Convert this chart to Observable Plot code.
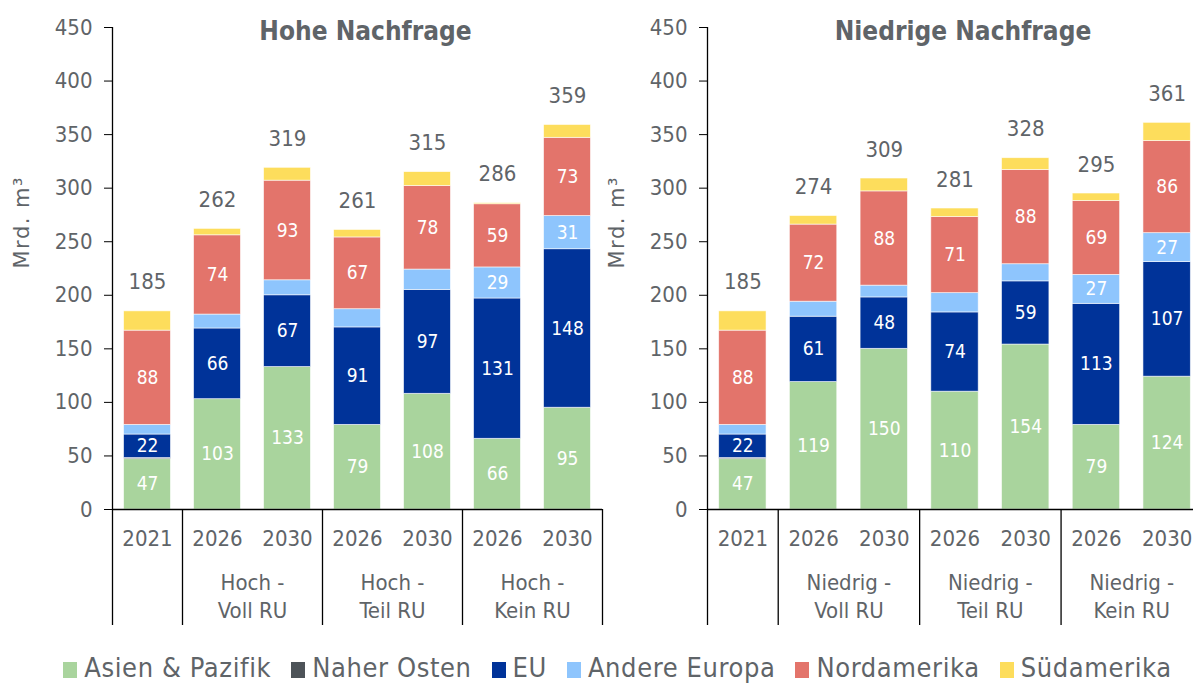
<!DOCTYPE html>
<html><head><meta charset="utf-8">
<script src="https://cdn.jsdelivr.net/npm/d3@7"></script>
<script src="https://cdn.jsdelivr.net/npm/@observablehq/plot@0.6"></script>
<style>
body{margin:0;background:#fff;font-family:"DejaVu Sans Condensed","DejaVu Sans",sans-serif;}
#wrap{position:relative;width:1193px;height:687px;overflow:hidden;background:#fff}
#left{position:absolute;left:0;top:0;width:605px}
#right{position:absolute;left:605px;top:0;width:600px}
#legend{position:absolute;top:652px;left:42px;width:1151px;display:flex;justify-content:center;align-items:center;font-size:27px;letter-spacing:0.6px;color:#5f6468;white-space:nowrap}
#legend .item{display:flex;align-items:center;margin:0 10px}
#legend .sw{width:14px;height:16px;margin-right:7px;display:inline-block;position:relative;top:2px}
svg{max-width:none !important}
</style>
</head><body>
<div id="wrap"><div id="left"></div><div id="right"></div><div id="legend"></div></div>
<script>
const years = ["2021","2026","2030","2026","2030","2026","2030"];
const groupsHigh = ["Hoch -\nVoll RU","Hoch -\nTeil RU","Hoch -\nKein RU"];
const groupsLow = ["Niedrig -\nVoll RU","Niedrig -\nTeil RU","Niedrig -\nKein RU"];
const regions = ["Asien & Pazifik","Naher Osten","EU","Andere Europa","Nordamerika","Südamerika"];
const colors = ["#a9d49d","#4d5358","#003399","#8ec5fd","#e3746b","#fddd5c"];

const highAsia = [47,103,133,79,108,66,95];
const highME   = [1,0,0,0,0,0,0];
const highEU   = [22,66,67,91,97,131,148];
const highOE   = [9,13,14,17,19,29,31];
const highNA   = [88,74,93,67,78,59,73];
const highSA   = [18,6,12,7,13,1,12];
const highTotal = [185,262,319,261,315,286,359];

const lowAsia = [47,119,150,110,154,79,124];
const lowME   = [1,0,0,0,0,0,0];
const lowEU   = [22,61,48,74,59,113,107];
const lowOE   = [9,14,11,18,16,27,27];
const lowNA   = [88,72,88,71,88,69,86];
const lowSA   = [18,8,12,8,11,7,17];
const lowTotal = [185,274,309,281,328,295,361];

const yTicks = [0,50,100,150,200,250,300,350,400,450];
const labelledRegions = ["Asien & Pazifik","EU","Nordamerika"];
const textColor = "#5f6468";
const font = '"DejaVu Sans Condensed","DejaVu Sans",sans-serif';
const yTitle = "Mrd. m³";

function panel({title, series, totals, groups, width, marginLeft, marginRight}) {
  const rows = [];
  regions.forEach((r, k) => series[k].forEach((v, i) => rows.push({
    i, region: r, value: v,
    label: (labelledRegions.includes(r) || (r === "Andere Europa" && v >= 25)) ? String(v) : ""
  })));
  const bars = years.map((y, i) => ({i, year: y, total: totals[i]}));
  const grp = groups.map((g, j) => ({x: 1.5 + 2 * j, text: g}));
  const seps = [-0.5, 0.5, 2.5, 4.5, 6.5];
  const svg = Plot.plot({
    width, height: 640, marginLeft, marginRight, marginTop: 27, marginBottom: 131,
    style: {fontFamily: font, fontSize: "22px", color: textColor, background: "transparent", overflow: "visible", maxWidth: "none"},
    x: {domain: [-0.5, 6.5], axis: null},
    y: {domain: [0, 450], axis: null},
    color: {domain: regions, range: colors},
    marks: [
      Plot.rect(rows, Plot.stackY({x: "i", y: "value", fill: "region",
        x1: d => d.i - 0.335, x2: d => d.i + 0.335, stroke: "#fff", strokeWidth: 0.8, strokeOpacity: 0.7})),
      Plot.text(rows, Plot.stackY({x: "i", y: "value", text: "label", fill: "white", fontSize: 19})),
      Plot.text(bars, {x: "i", y: "total", text: d => String(d.total), lineAnchor: "bottom", dy: -22, fontSize: 22, fill: textColor}),
      Plot.text(bars, {x: "i", y: () => 0, text: "year", lineAnchor: "middle", dy: 29, fontSize: 22, fill: textColor}),
      Plot.text(grp, {x: "x", y: () => 0, text: "text", lineAnchor: "top", dy: 61, lineHeight: 1.27, fontSize: 22, fill: textColor}),
      Plot.ruleX(seps, {y1: () => 0, y2: () => 0, insetBottom: -116, stroke: "black", strokeWidth: 1.3}),
      Plot.ruleX([-0.5], {stroke: "black", strokeWidth: 1.3}),
      Plot.ruleY([0], {stroke: "black", strokeWidth: 1.3}),
      Plot.axisY(yTicks, {tickSize: 8, tickPadding: 12, label: null, stroke: "black", fill: textColor, fontSize: 22}),
      Plot.text([title], {frameAnchor: "top", dx: 8, dy: 4, lineAnchor: "middle", fontWeight: "bold", fontSize: 26, fill: textColor}),
      Plot.text([yTitle], {frameAnchor: "left", dx: -90, dy: 0, rotate: -90, fontSize: 21, fontFamily: '"DejaVu Sans",sans-serif', fill: textColor})
    ]
  });
  svg.querySelectorAll("text").forEach(t => { if (t.textContent === yTitle) t.setAttribute("letter-spacing", "1.5"); });
  return svg;
}

document.getElementById("left").append(panel({
  title: "Hohe Nachfrage",
  series: [highAsia, highME, highEU, highOE, highNA, highSA],
  totals: highTotal, groups: groupsHigh, width: 605, marginLeft: 112, marginRight: 3
}));
document.getElementById("right").append(panel({
  title: "Niedrige Nachfrage",
  series: [lowAsia, lowME, lowEU, lowOE, lowNA, lowSA],
  totals: lowTotal, groups: groupsLow, width: 600, marginLeft: 102, marginRight: 3
}));

const legend = document.getElementById("legend");
regions.forEach((r, k) => {
  const it = document.createElement("span");
  it.className = "item";
  it.innerHTML = `<span class="sw" style="background:${colors[k]}"></span><span>${r}</span>`;
  legend.append(it);
});
</script>
</body></html>
